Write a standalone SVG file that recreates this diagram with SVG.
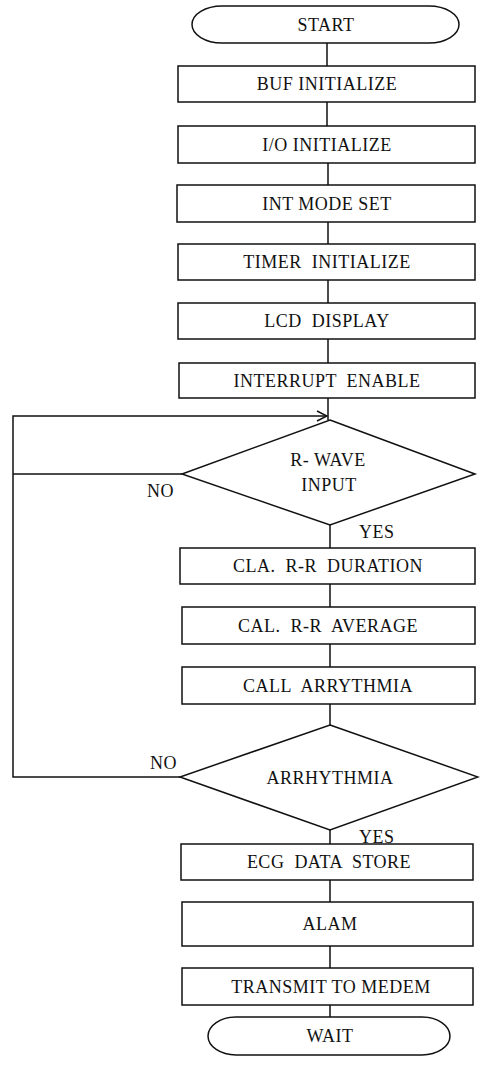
<svg xmlns="http://www.w3.org/2000/svg" width="480" height="1066" viewBox="0 0 480 1066">
<style>
.s{fill:#fff;stroke:#111;stroke-width:1.5}
.c{fill:none;stroke:#111;stroke-width:1.5}
text{font-family:"Liberation Serif","Times New Roman",serif;font-size:18px;fill:#111;letter-spacing:0.5px}
.m{text-anchor:middle}
</style>
<defs>
<marker id="arr" viewBox="0 0 12 12" refX="11" refY="6" markerWidth="12" markerHeight="12" markerUnits="userSpaceOnUse" orient="auto">
<path d="M1,1 L11,6 L1,11" fill="none" stroke="#111" stroke-width="1.5"/>
</marker>
</defs>
<g id="connectors">
<path class="c" d="M327,43V66M327,102V126M328,163V185M328,222V244M328,280V303M328,339V363M328,398V420M330,525V548M330,584V607M330,644V667M330,704V725M330,830V844M330,880V902M330,946V968M330,1005V1017"/>
<path class="c" d="M182,474H13"/>
<path class="c" d="M180,777H13V416H327" marker-end="url(#arr)"/>
</g>
<g id="start"><rect class="s" x="192" y="6" width="267" height="37" rx="30" ry="18.5"/><text class="m" x="326" y="31">START</text></g>
<g id="buf"><rect class="s" x="178" y="66" width="297" height="36"/><text class="m" x="327" y="90">BUF INITIALIZE</text></g>
<g id="io"><rect class="s" x="178" y="126" width="297" height="37"/><text class="m" x="327" y="151">I/O INITIALIZE</text></g>
<g id="intmode"><rect class="s" x="177" y="185" width="298" height="37"/><text class="m" x="327" y="210">INT MODE SET</text></g>
<g id="timer"><rect class="s" x="178" y="244" width="297" height="36"/><text class="m" x="327" y="268" xml:space="preserve">TIMER  INITIALIZE</text></g>
<g id="lcd"><rect class="s" x="178" y="303" width="297" height="36"/><text class="m" x="327" y="327" xml:space="preserve">LCD  DISPLAY</text></g>
<g id="intenable"><rect class="s" x="179" y="363" width="296" height="35"/><text class="m" x="327" y="387" xml:space="preserve">INTERRUPT  ENABLE</text></g>
<g id="rwave"><polygon class="s" points="330,420 475,474 330,525 182,474"/><text class="m" x="328" y="466">R- WAVE</text><text class="m" x="329" y="491">INPUT</text></g>
<g id="cla"><rect class="s" x="180" y="548" width="295" height="36"/><text class="m" x="328" y="572" xml:space="preserve">CLA.  R-R  DURATION</text></g>
<g id="calavg"><rect class="s" x="182" y="607" width="293" height="37"/><text class="m" x="328" y="632" xml:space="preserve">CAL.  R-R  AVERAGE</text></g>
<g id="callarr"><rect class="s" x="182" y="667" width="293" height="37"/><text class="m" x="328" y="692" xml:space="preserve">CALL  ARRYTHMIA</text></g>
<g id="arrhythmia"><polygon class="s" points="330,725 478,777 330,830 180,777"/><text class="m" x="330" y="784">ARRHYTHMIA</text></g>
<g id="ecg"><rect class="s" x="181" y="844" width="292" height="36"/><text class="m" x="329" y="868" xml:space="preserve">ECG  DATA  STORE</text></g>
<g id="alam"><rect class="s" x="182" y="902" width="291" height="44"/><text class="m" x="330" y="930">ALAM</text></g>
<g id="transmit"><rect class="s" x="182" y="968" width="291" height="37"/><text class="m" x="331" y="993">TRANSMIT TO MEDEM</text></g>
<g id="wait"><rect class="s" x="208" y="1017" width="242" height="38" rx="28" ry="19"/><text class="m" x="330" y="1042">WAIT</text></g>
<g id="labels">
<text x="147" y="497">NO</text>
<text x="359" y="538">YES</text>
<text x="150" y="769">NO</text>
<text x="359" y="843">YES</text>
</g>
</svg>
